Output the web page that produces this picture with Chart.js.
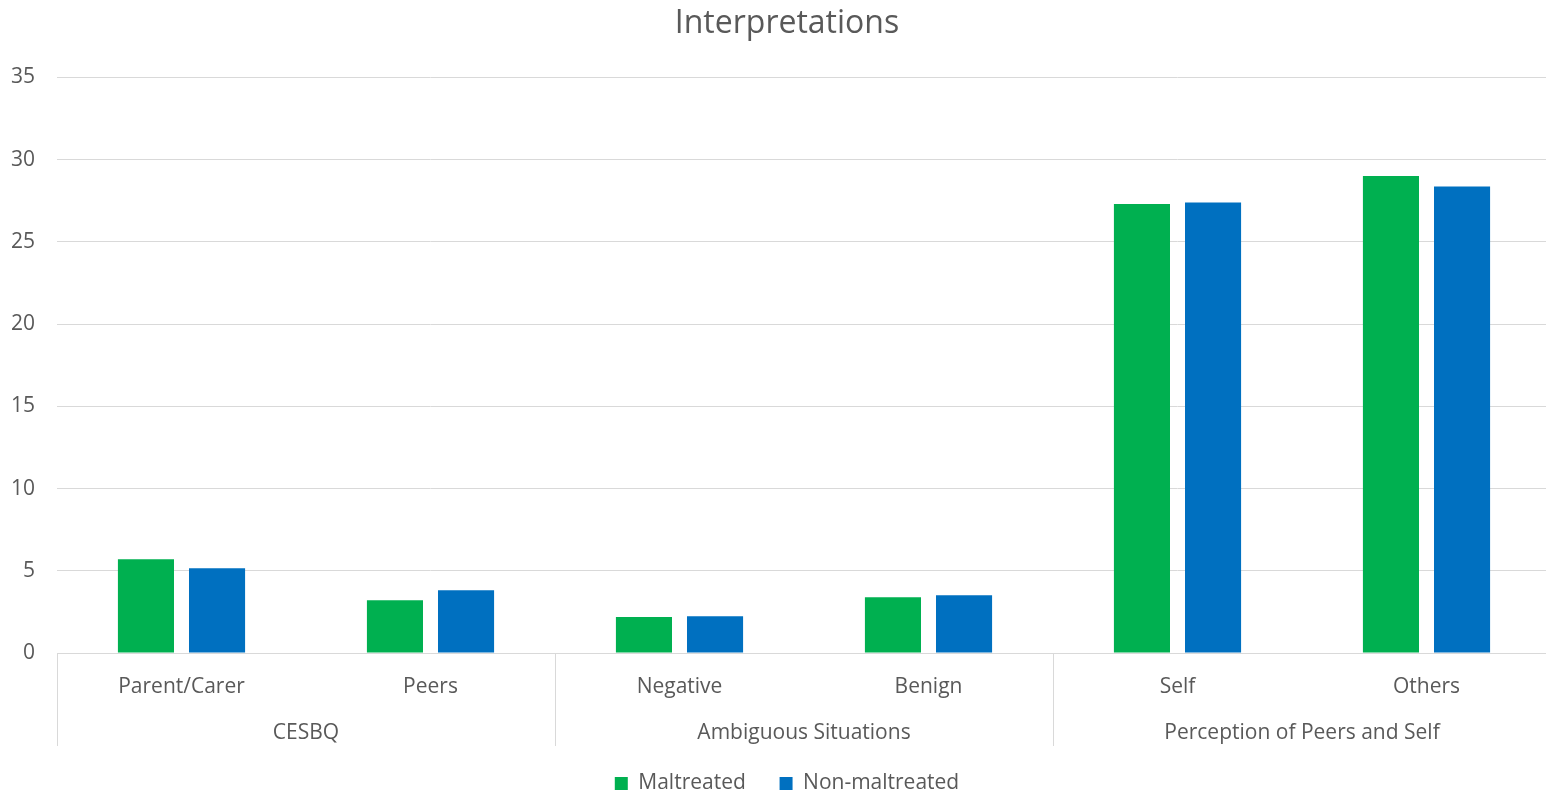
<!DOCTYPE html>
<html>
<head>
<meta charset="utf-8">
<script src="https://cdn.jsdelivr.net/npm/chart.js@4.4.1/dist/chart.umd.min.js"></script>
<style>
  html, body { margin: 0; padding: 0; background: #fff; overflow: hidden; }
  #wrap { width: 1574px; height: 794px; position: relative; }
</style>
</head>
<body>
<div id="wrap"><canvas id="c"></canvas></div>
<script>
const categories = ['Parent/Carer', 'Peers', 'Negative', 'Benign', 'Self', 'Others'];
const groups = ['CESBQ', 'Ambiguous Situations', 'Perception of Peers and Self'];
const seriesNames = ['Maltreated', 'Non-maltreated'];
const maltreated = [5.70, 3.20, 2.19, 3.39, 27.3, 29.0];
const nonMaltreated = [5.15, 3.81, 2.23, 3.51, 27.4, 28.37];
const yTicks = [0, 5, 10, 15, 20, 25, 30, 35];

const FONT = "'Open Sans', sans-serif";
const TEXT = '#595959';
const GRID = '#d9d9d9';

const groupPlugin = {
  id: 'groupLabels',
  afterDraw(chart) {
    const ctx = chart.ctx;
    const x = chart.scales.x;
    const area = chart.chartArea;
    const half = (x.getPixelForValue(1) - x.getPixelForValue(0)) / 2;
    ctx.save();
    ctx.strokeStyle = GRID;
    ctx.lineWidth = 1;
    const bounds = [];
    for (let g = 0; g <= groups.length; g++) {
      const idx = g * 2;
      const px = idx < categories.length ? x.getPixelForValue(idx) - half : x.getPixelForValue(categories.length - 1) + half;
      bounds.push(px);
      ctx.beginPath();
      ctx.moveTo(Math.round(px) + 0.5, area.bottom);
      ctx.lineTo(Math.round(px) + 0.5, area.bottom + 93);
      ctx.stroke();
    }
    ctx.fillStyle = TEXT;
    ctx.font = '21px ' + FONT;
    ctx.textAlign = 'center';
    ctx.textBaseline = 'middle';
    groups.forEach((g, i) => {
      ctx.fillText(g, (bounds[i] + bounds[i + 1]) / 2, area.bottom + 80);
    });
    ctx.restore();
  }
};

new Chart(document.getElementById('c'), {
  type: 'bar',
  data: {
    labels: categories,
    datasets: [
      { label: seriesNames[0], data: maltreated, backgroundColor: '#00b050', borderWidth: 0 },
      { label: seriesNames[1], data: nonMaltreated, backgroundColor: '#0070c0', borderWidth: 0 }
    ]
  },
  options: {
    responsive: true,
    maintainAspectRatio: false,
    animation: false,
    datasets: { bar: { categoryPercentage: 0.571, barPercentage: 0.789 } },
    layout: { padding: { left: 0, right: 0, top: 5, bottom: -10 } },
    plugins: {
      title: {
        display: true,
        text: 'Interpretations',
        color: TEXT,
        font: { family: FONT, size: 32, weight: 'normal' },
        padding: { top: 0, bottom: 34 }
      },
      legend: {
        position: 'bottom',
        labels: {
          color: TEXT,
          font: { family: FONT, size: 21 },
          boxWidth: 13,
          boxHeight: 13,
          padding: 3,
          generateLabels(chart) {
            const items = Chart.defaults.plugins.legend.labels.generateLabels(chart);
            items.forEach((it, i) => { if (i < items.length - 1) it.text = it.text + '\u00a0\u00a0\u00a0\u00a0\u00a0\u2009'; });
            return items;
          }
        }
      },
      tooltip: { enabled: false }
    },
    scales: {
      y: {
        min: 0,
        max: 35,
        afterBuildTicks(scale) { scale.ticks = yTicks.map(v => ({ value: v })); },
        afterFit(scale) { scale.width = 57; },
        ticks: { color: TEXT, font: { family: FONT, size: 21 }, padding: 22 },
        grid: { color: GRID, drawTicks: false },
        border: { display: false }
      },
      yRight: {
        type: 'linear',
        position: 'right',
        min: 0,
        max: 35,
        afterFit(scale) { scale.width = 23; },
        ticks: { display: false },
        grid: { display: false, drawTicks: false },
        border: { display: false }
      },
      x: {
        afterFit(scale) { scale.height = 117; },
        ticks: { color: TEXT, font: { family: FONT, size: 21 }, padding: 13, maxRotation: 0 },
        grid: { display: false },
        border: { display: true, color: GRID }
      }
    }
  },
  plugins: [groupPlugin]
});
</script>
</body>
</html>
